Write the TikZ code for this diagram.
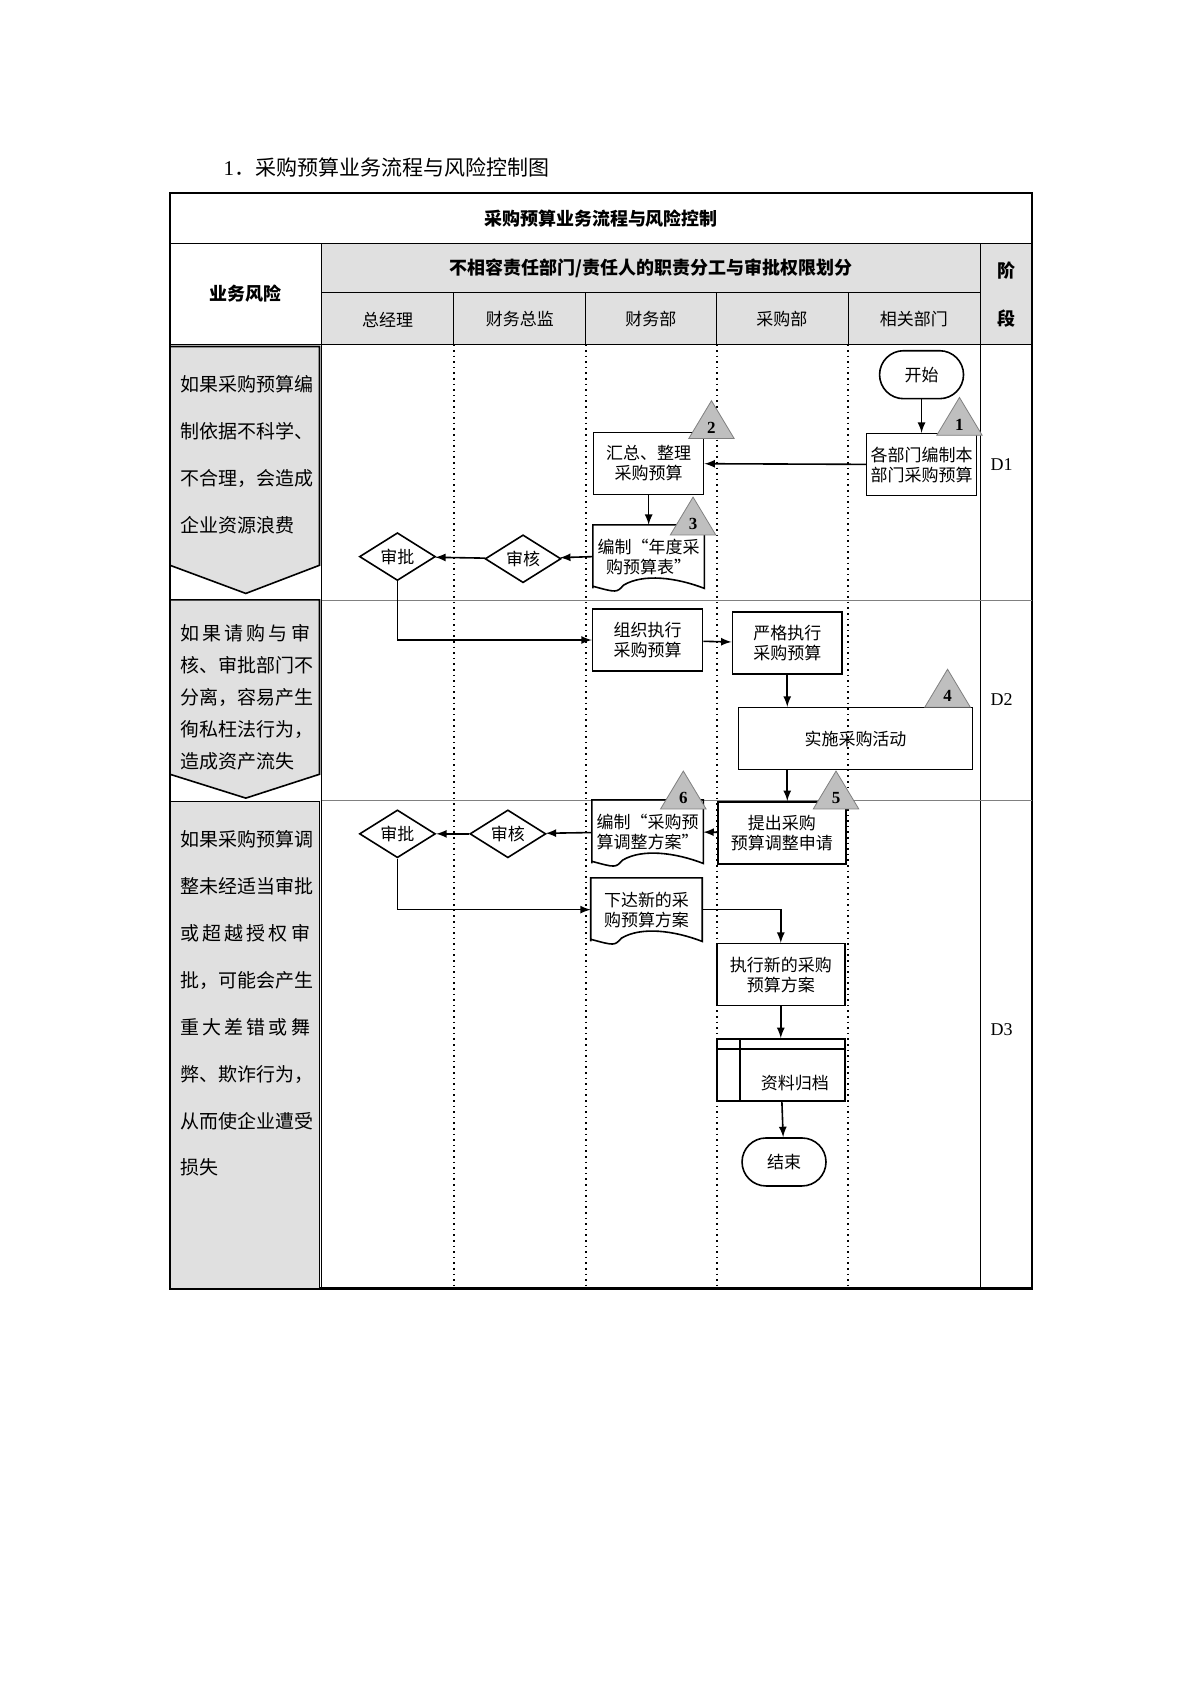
\documentclass[tikz,border=0pt]{standalone}
\usepackage{fontspec}
\setmainfont{Noto Sans CJK SC}
\newfontfamily\latinFont{Liberation Serif}
\usetikzlibrary{shapes, positioning, arrows, calc}
\definecolor{laneGray}{gray}{0.88}
\definecolor{markGray}{gray}{0.75}
\tikzstyle{every node}=[font=\fontsize{8.5}{10}\selectfont]
\tikzstyle{procBox}=[draw, thick, minimum width=55pt, minimum height=31pt, align=center, inner sep=1pt]
\tikzstyle{doc}=[procBox, draw=none]
\tikzstyle{check}=[diamond, draw, thick, aspect=1.35, inner sep=1pt, minimum width=38pt]
\tikzstyle{terminal}=[draw, thick, rounded corners=12pt, minimum width=42pt, minimum height=24pt]
\tikzstyle{arrow}=[->, >=latex, thick]
\tikzstyle{laneLine}=[thick, dotted]
\tikzstyle{riskBox}=[draw, fill=laneGray, thick]
\tikzstyle{riskText}=[anchor=north west, align=left, font=\fontsize{9.5}{23.5}\selectfont]
\tikzstyle{stageLabel}=[font=\latinFont\fontsize{9}{10}\selectfont]
% document outline with wavy bottom
\newcommand\docWave[1]{%
  \draw[thick] (#1.south west) -- (#1.north west) -- (#1.north east) -- (#1.south east)
    .. controls ($(#1.south east)!0.5!(#1.south)+(0,-10)$) and ($(#1.south)+(-5,-14)$) .. ($(#1.south west)!0.55!(#1.south)+(0,-3)$)
    .. controls ($(#1.south west)+(22,4)$) .. ($(#1.south west)+(0,-2)$);
}
% numbered risk triangle, apex given
\newcommand\riskMark[3]{%
  \draw[fill=markGray, draw=gray] (#1,#2) -- ++(-21,35) -- ++(42,0) -- cycle;
  \node[font=\latinFont\bfseries\fontsize{8.5}{9}\selectfont] (mark#3) at (#1,#2+25) {#3};
}
\begin{document}
\begin{tikzpicture}[x=0.5417pt, y=-0.5417pt]
  \useasboundingbox (0,0) rectangle (1108,1568);
  \node[anchor=west, font=\fontsize{10.5}{12}\selectfont] (caption) at (200,155) {\latinFont 1\rmfamily ．采购预算业务流程与风险控制图};
  % table frame and header
  \draw[fill=laneGray] (297,225) rectangle (905,318);
  \draw[fill=laneGray] (905,225) rectangle (953,318);
  \draw (157,225) rectangle (297,318);
  \draw (297,270) -- (905,270);
  \foreach \x in {419,541,662,783} \draw (\x,270) -- (\x,318);
  \draw[line width=1.2pt] (157,178) rectangle (953,1190);
  \draw (157,225) -- (953,225);
  \draw (157,318) -- (953,318);
  \draw (297,225) -- (297,1190);
  \draw (905,225) -- (905,1190);
  \node[font=\bfseries\fontsize{9}{10}\selectfont] (chartTitle) at (555,202) {采购预算业务流程与风险控制};
  \node[font=\bfseries\fontsize{9}{10}\selectfont] (riskHead) at (227,271) {业务风险};
  \node[font=\bfseries\fontsize{9}{10}\selectfont] (laneHead) at (601,248) {不相容责任部门/责任人的职责分工与审批权限划分};
  \node[font=\bfseries\fontsize{9}{10}\selectfont] (stageA) at (929,250) {阶};
  \node[font=\bfseries\fontsize{9}{10}\selectfont] (stageB) at (929,294) {段};
  \node (laneA) at (358,295) {总经理};
  \node (laneB) at (480,295) {财务总监};
  \node (laneC) at (601,295) {财务部};
  \node (laneD) at (722,295) {采购部};
  \node (laneE) at (844,295) {相关部门};
  % lanes and phases
  \foreach \x in {419,541,662,783} \draw[laneLine] (\x,318) -- (\x,1190);
  \draw[gray] (297,554) -- (953,554);
  \draw[gray] (297,739) -- (953,739);
  \draw[riskBox] (157,320) -- (295,320) -- (295,522) -- (227,548) -- (157,522) -- cycle;
  \draw[riskBox] (157,554) -- (295,554) -- (295,715) -- (227,737) -- (157,715) -- cycle;
  \draw[riskBox] (157,740) rectangle (295,1190);
  \node[riskText] (riskA) at (160,340) {如果采购预算编\\制依据不科学、\\不合理，会造成\\企业资源浪费};
  \node[riskText, font=\fontsize{9.5}{16}\selectfont] (riskB) at (160,570) {如\,果\,请\,购\,与\,审\\核、审批部门不\\分离，容易产生\\徇私枉法行为，\\造成资产流失};
  \node[riskText] (riskC) at (160,760) {如果采购预算调\\整未经适当审批\\或\,超\,越\,授\,权\,审\\批，可能会产生\\重\,大\,差\,错\,或\,舞\\弊、欺诈行为，\\从而使企业遭受\\损失};
  \node[stageLabel] (d1) at (925,429) {D1};
  \node[stageLabel] (d2) at (925,646) {D2};
  \node[stageLabel] (d3) at (925,951) {D3};
  % phase D1
  \node[terminal] (start) at (851,346) {开始};
  \node[procBox] (deptPlan) at (851,429) {各部门编制本\\部门采购预算};
  \node[procBox] (collect) at (599,428) {汇总、整理\\采购预算};
  \node[doc] (yearTable) at (599,514) {编制“年度采\\购预算表”};
  \docWave{yearTable}
  \node[check] (reviewA) at (483,516) {审核};
  \node[check] (approveA) at (367,514) {审批};
  \riskMark{886}{367}{1}
  \riskMark{657}{370}{2}
  \riskMark{640}{459}{3}
  \draw[arrow] (start) -- (deptPlan);
  \draw[arrow] (deptPlan) -- (collect);
  \draw[arrow] (collect) -- (yearTable);
  \draw[arrow] (yearTable.west) -- (reviewA);
  \draw[arrow] (reviewA) -- (approveA);
  % phase D2
  \node[procBox] (organize) at (598,591) {组织执行\\采购预算};
  \node[procBox] (execute) at (727,594) {严格执行\\采购预算};
  \node[procBox, minimum width=117pt] (purchase) at (790,682) {实施采购活动};
  \riskMark{875}{618}{4}
  \draw[arrow] (approveA) |- (organize);
  \draw[arrow] (organize) -- (execute);
  \draw[arrow] (execute.south) -- (execute.south |- purchase.north);
  % phase D3
  \node[procBox, minimum width=64pt] (adjustReq) at (722,769) {提出采购\\预算调整申请};
  \node[doc] (adjustPlan) at (598,768) {编制“采购预\\算调整方案”};
  \docWave{adjustPlan}
  \riskMark{772}{712}{5}
  \riskMark{631}{712}{6}
  \node[check] (reviewB) at (469,770) {审核};
  \node[check] (approveB) at (367,770) {审批};
  \node[doc] (newPlan) at (597,840) {下达新的采\\购预算方案};
  \docWave{newPlan}
  \node[procBox, minimum width=64pt] (newExec) at (721,900) {执行新的采购\\预算方案};
  \node[procBox, minimum width=64pt, text height=18pt] (archive) at (721,988) {};
  \draw[thick] (archive.north west) ++(0,10) -- ++(120,0);
  \draw[thick] (archive.north west) ++(22,0) -- ++(0,59);
  \node (archiveText) at (734,1000) {资料归档};
  \node[terminal] (finish) at (724,1073) {结束};
  \draw[arrow] (execute.south |- purchase.south) -- (execute.south |- adjustReq.north);
  \draw[arrow] (adjustReq) -- (adjustPlan);
  \draw[arrow] (adjustPlan) -- (reviewB);
  \draw[arrow] (reviewB) -- (approveB);
  \draw[arrow] (approveB) |- (newPlan);
  \draw[arrow] (newPlan.east) -| (newExec.north);
  \draw[arrow] (newExec) -- (archive);
  \draw[arrow] (archive) -- (finish);
\end{tikzpicture}
\end{document}
